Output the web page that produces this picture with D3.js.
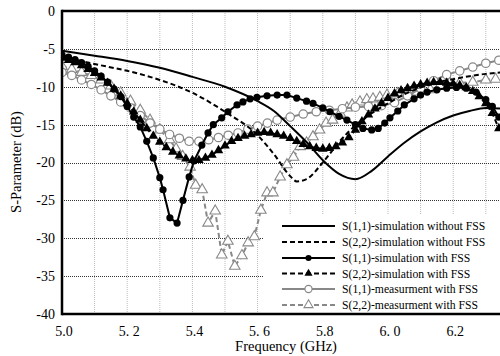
<!DOCTYPE html>
<html><head><meta charset="utf-8">
<script src="https://cdn.jsdelivr.net/npm/d3@7"></script>
<style>body{margin:0;background:#fff}svg{display:block}text{font-family:"Liberation Serif","Times New Roman",serif;fill:#000}</style>
</head><body><svg id="c" width="500" height="356"></svg>
<script>
const yTicks = [0,-5,-10,-15,-20,-25,-30,-35,-40];
const xTicks = [5.0,5.2,5.4,5.6,5.8,6.0,6.2];
const xTickLabels = ["5.0","5. 2","5.4","5. 6","5.8","6. 0","6.2"];
const xLabel = "Frequency (GHz)";
const yLabel = "S-Parameter (dB)";
const seriesNames = ["S(1,1)-simulation without FSS","S(2,2)-simulation without FSS","S(1,1)-simulation with FSS","S(2,2)-simulation with FSS","S(1,1)-measurment with FSS","S(2,2)-measurment with FSS"];

const s11NoF = [5.0,5.1,5.2,5.3,5.4,5.5,5.6,5.65,5.7,5.75,5.8,5.85,5.9,5.95,6.0,6.05,6.1,6.15,6.2,6.25,6.3,6.35];
const s11NoV = [-5.25,-5.9,-6.6,-7.5,-8.7,-10.0,-11.9,-13.2,-15.2,-17.3,-19.7,-21.5,-22.2,-21.1,-19.2,-17.4,-15.9,-14.7,-13.8,-13.2,-12.8,-12.9];

const s22NoF = [5.0,5.1,5.2,5.3,5.4,5.5,5.6,5.65,5.7,5.72,5.75,5.8,5.85,5.9,5.95,6.0,6.05,6.1,6.15,6.2,6.25,6.3,6.35];
const s22NoV = [-6.0,-7.0,-7.9,-9.1,-10.8,-13.3,-16.4,-18.9,-21.8,-22.5,-22.2,-20.0,-17.3,-15.1,-13.5,-12.2,-11.0,-10.1,-9.4,-9.0,-8.6,-8.3,-8.1];

const s11SimF = [5.0,5.02,5.04,5.06,5.08,5.1,5.12,5.14,5.16,5.18,5.2,5.22,5.24,5.26,5.28,5.3,5.31,5.331,5.353,5.371,5.39,5.405,5.429,5.448,5.464,5.49,5.509,5.537,5.555,5.577,5.598,5.629,5.66,5.69,5.72,5.75,5.77,5.8,5.822,5.85,5.874,5.9,5.923,5.95,5.97,5.99,6.006,6.03,6.05,6.08,6.1,6.12,6.15,6.18,6.21,6.24,6.27,6.3,6.32,6.34];
const s11SimV = [-5.8,-6.1,-6.4,-6.8,-7.3,-7.9,-8.6,-9.4,-10.3,-11.3,-12.6,-14.0,-15.3,-17.2,-19.4,-22.0,-23.6,-27.3,-28.0,-25.0,-21.9,-19.8,-17.7,-16.1,-15.0,-14.1,-13.3,-12.4,-12.0,-11.6,-11.4,-11.2,-11.1,-11.1,-11.5,-11.9,-12.2,-12.8,-13.3,-13.9,-14.4,-15.0,-15.5,-15.7,-15.5,-14.8,-14.1,-13.2,-12.4,-11.6,-11.1,-10.7,-10.4,-10.2,-10.1,-10.2,-10.7,-11.7,-12.6,-14.0];

const s22SimF = [5.0,5.02,5.04,5.06,5.08,5.1,5.12,5.14,5.16,5.18,5.2,5.22,5.24,5.26,5.28,5.3,5.32,5.34,5.36,5.38,5.4,5.42,5.44,5.46,5.48,5.5,5.52,5.54,5.56,5.58,5.6,5.62,5.64,5.66,5.68,5.7,5.72,5.74,5.76,5.78,5.8,5.82,5.84,5.86,5.88,5.9,5.92,5.94,5.96,5.98,6.0,6.02,6.04,6.06,6.08,6.1,6.12,6.14,6.16,6.18,6.2,6.22,6.24,6.26,6.28,6.3,6.32,6.34];
const s22SimV = [-6.2,-6.5,-6.8,-7.2,-7.7,-8.2,-8.8,-9.5,-10.3,-11.2,-12.2,-13.3,-14.4,-15.5,-16.5,-17.3,-18.0,-18.6,-19.1,-19.5,-19.7,-19.7,-19.4,-19.0,-18.4,-17.8,-17.2,-16.8,-16.5,-16.3,-16.1,-16.0,-16.1,-16.3,-16.5,-16.8,-17.2,-17.6,-17.9,-18.1,-18.2,-18.1,-17.9,-17.4,-16.7,-15.7,-14.6,-13.7,-12.9,-12.2,-11.5,-10.9,-10.5,-10.2,-9.9,-9.7,-9.5,-9.4,-9.4,-9.5,-9.6,-9.8,-10.1,-10.6,-11.3,-12.2,-13.5,-15.5];

const s11MeasF = [5.0,5.03,5.06,5.09,5.12,5.15,5.18,5.21,5.24,5.27,5.3,5.33,5.36,5.39,5.42,5.45,5.48,5.51,5.54,5.57,5.6,5.63,5.66,5.7,5.74,5.78,5.82,5.86,5.9,5.94,5.98,6.02,6.06,6.1,6.14,6.18,6.22,6.26,6.3,6.34];
const s11MeasV = [-8.1,-8.5,-9.1,-9.7,-10.4,-11.2,-12.0,-12.8,-13.8,-14.8,-15.6,-16.3,-16.8,-17.2,-17.2,-17.0,-16.7,-16.4,-16.1,-15.6,-15.2,-14.8,-14.4,-14.0,-13.6,-13.3,-13.1,-12.9,-12.7,-12.6,-12.5,-12.1,-11.2,-10.2,-9.2,-8.4,-7.9,-7.4,-6.9,-6.5];

const s22MeasF = [5.0,5.03,5.06,5.09,5.12,5.15,5.18,5.21,5.24,5.27,5.3,5.33,5.35,5.37,5.393,5.41,5.43,5.448,5.47,5.49,5.509,5.53,5.552,5.571,5.59,5.61,5.629,5.647,5.669,5.69,5.71,5.73,5.75,5.77,5.79,5.81,5.83,5.853,5.874,5.89,5.914,5.935,5.954,5.975,5.997,6.03,6.06,6.09,6.13,6.16,6.19,6.22,6.26,6.3,6.33];
const s22MeasV = [-7.3,-7.7,-8.1,-8.5,-9.1,-9.9,-10.8,-11.9,-13.1,-14.4,-15.7,-17.0,-18.2,-19.2,-20.6,-23.0,-23.6,-28.0,-26.4,-32.2,-30.4,-33.7,-32.3,-30.6,-29.8,-26.3,-24.0,-24.0,-21.9,-20.3,-19.3,-17.9,-17.4,-16.6,-15.7,-14.8,-14.4,-13.5,-12.8,-12.4,-12.0,-11.7,-11.6,-11.4,-11.1,-10.9,-10.8,-10.7,-10.4,-9.8,-9.5,-9.5,-9.4,-9.1,-9.0];

const svg = d3.select("#c");
const L = 62, R = 500, T = 11, B = 314;
const x = d3.scaleLinear().domain([5.0, 5.0 + 438/326]).range([L, R]);
const y = d3.scaleLinear().domain([-40, 0]).range([B, T]);

svg.append("defs").append("clipPath").attr("id","clip").append("rect")
  .attr("x", L).attr("y", T).attr("width", R-L).attr("height", B-T);

// vertical grid
const vgrid = d3.range(1, 14).map(i => 5.0 + i*0.1);
svg.append("g").selectAll("line").data(vgrid).join("line")
  .attr("x1", d => x(d)).attr("x2", d => x(d)).attr("y1", T).attr("y2", B)
  .attr("stroke", "#bbb").attr("stroke-width", 1).attr("stroke-dasharray", "1,1");
// horizontal grid
svg.append("g").selectAll("line").data(yTicks.filter(d => d < 0 && d > -40)).join("line")
  .attr("x1", L).attr("x2", R).attr("y1", d => Math.round(y(d))+0.5).attr("y2", d => Math.round(y(d))+0.5)
  .attr("stroke", "#333").attr("stroke-width", 1).attr("stroke-dasharray", "1,1");

const g = svg.append("g").attr("clip-path", "url(#clip)");
function zip(F, V){ return F.map((f,i)=>[f,V[i]]); }
const lineSmooth = d3.line().x(d=>x(d[0])).y(d=>y(d[1])).curve(d3.curveMonotoneX);
const lineLin = d3.line().x(d=>x(d[0])).y(d=>y(d[1]));

const styles = [
  {F:s11NoF, V:s11NoV, color:"#000", dash:null, w:2, marker:null, smooth:true},
  {F:s22NoF, V:s22NoV, color:"#000", dash:"5,3", w:2, marker:null, smooth:true},
  {F:s11SimF, V:s11SimV, color:"#000", dash:null, w:2, marker:"fcircle"},
  {F:s22SimF, V:s22SimV, color:"#000", dash:"5,3", w:2, marker:"ftri"},
  {F:s11MeasF, V:s11MeasV, color:"#888", dash:null, w:2, marker:"ocircle"},
  {F:s22MeasF, V:s22MeasV, color:"#888", dash:"5,3", w:2, marker:"otri"}
];
const drawOrder = [5,4,1,0,3,2];
const tri = d3.symbol().type(d3.symbolTriangle);
function drawMarker(sel, type, px, py, scale){
  scale = scale || 1;
  if (type === "fcircle") sel.append("circle").attr("cx",px).attr("cy",py).attr("r",3.6*scale).attr("fill","#000");
  else if (type === "ocircle") sel.append("circle").attr("cx",px).attr("cy",py).attr("r",4.2*scale).attr("fill","#fff").attr("stroke","#888").attr("stroke-width",1.2);
  else if (type === "ftri") sel.append("path").attr("d", tri.size(40*scale*scale)()).attr("transform",`translate(${px},${py})`).attr("fill","#000");
  else if (type === "otri") sel.append("path").attr("d", tri.size(48*scale*scale)()).attr("transform",`translate(${px},${py})`).attr("fill","#fff").attr("stroke","#888").attr("stroke-width",1.1);
}
drawOrder.forEach(i => {
  const s = styles[i];
  const data = zip(s.F, s.V);
  g.append("path").attr("d", (s.smooth?lineSmooth:lineLin)(data)).attr("fill","none")
    .attr("stroke", s.color).attr("stroke-width", s.w).attr("stroke-dasharray", s.dash);
  if (s.marker) {
    const mg = g.append("g");
    data.forEach(d => drawMarker(mg, s.marker, x(d[0]), y(d[1])));
  }
});

// legend
const lg = svg.append("g");
lg.append("rect").attr("x", 263).attr("y", 215).attr("width", 240).attr("height", B-215-1.5).attr("fill", "#fff");
const rowY = [226, 242, 258, 273.5, 289, 305];
styles.forEach((s, i) => {
  const yy = rowY[i];
  lg.append("line").attr("x1", 282).attr("x2", 335).attr("y1", yy).attr("y2", yy)
    .attr("stroke", s.color).attr("stroke-width", s.w).attr("stroke-dasharray", s.dash);
  if (s.marker) drawMarker(lg, s.marker, 308.5, yy, 0.85);
  lg.append("text").attr("x", 342).attr("y", yy).attr("dy", "0.35em").attr("font-size", 11.7).text(seriesNames[i]);
});

// axes frame
svg.append("line").attr("x1", L).attr("x2", R).attr("y1", T).attr("y2", T).attr("stroke", "#000").attr("stroke-width", 2.5);
svg.append("line").attr("x1", L).attr("x2", R).attr("y1", B).attr("y2", B).attr("stroke", "#000").attr("stroke-width", 2.5);
svg.append("line").attr("x1", L).attr("x2", L).attr("y1", T-1.25).attr("y2", B+1.25).attr("stroke", "#000").attr("stroke-width", 2.5);

// y tick labels
svg.append("g").selectAll("text").data(yTicks).join("text")
  .attr("x", 55).attr("y", d => y(d)).attr("dy", "0.35em").attr("text-anchor", "end")
  .attr("font-size", 14).text(d => d === 0 ? "0" : String(d));
// x tick labels
svg.append("g").selectAll("text").data(xTicks).join("text")
  .attr("x", d => x(d) + 2).attr("y", 331).attr("dy", "0.35em").attr("text-anchor", "middle")
  .attr("font-size", 14).text((d,i) => xTickLabels[i]);

svg.append("text").attr("x", 286).attr("y", 346).attr("dy", "0.35em").attr("text-anchor", "middle").attr("font-size", 14.5).text(xLabel);
svg.append("text").attr("transform", "translate(16,162) rotate(-90)").attr("dy", "0.35em").attr("text-anchor", "middle").attr("font-size", 14.5).text(yLabel);
</script></body></html>
